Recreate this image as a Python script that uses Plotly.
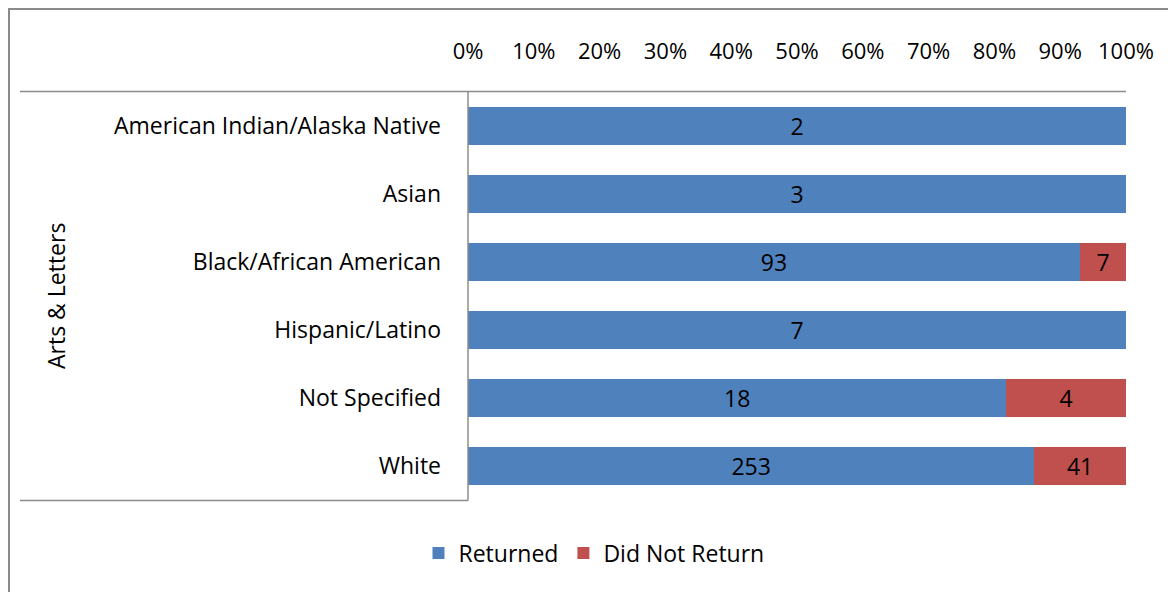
import plotly.graph_objects as go

categories = ["American Indian/Alaska Native", "Asian", "Black/African American",
              "Hispanic/Latino", "Not Specified", "White"]
returned = [2, 3, 93, 7, 18, 253]
did_not_return = [0, 0, 7, 0, 4, 41]
tick_vals = [0, 10, 20, 30, 40, 50, 60, 70, 80, 90, 100]
tick_text = ["0%", "10%", "20%", "30%", "40%", "50%", "60%", "70%", "80%", "90%", "100%"]
group_label = "Arts & Letters"

FONT = "Open Sans"
FS = 23
OFF = 8  # page body margin
W, H = 1176 - OFF, 592 - OFF
# reference (window) pixel coordinates of plot area
L, R, T, B = 468, 1126, 92, 500
pw, ph = R - L, B - T

def px(x):
    return (x - L) / pw

def py(y):
    return (B - y) / ph

fig = go.Figure()
fig.add_trace(go.Bar(
    y=categories, x=returned, orientation="h", name="Returned",
    marker=dict(color="#4F81BD", line=dict(width=0)),
    text=[str(v) if v else "" for v in returned], textposition="inside",
    insidetextanchor="middle", textfont=dict(color="black", size=FS, family=FONT),
    hoverinfo="x+y",
))
fig.add_trace(go.Bar(
    y=categories, x=did_not_return, orientation="h", name="Did Not Return",
    marker=dict(color="#C0504D", line=dict(width=0)),
    text=[str(v) if v else "" for v in did_not_return], textposition="inside",
    insidetextanchor="middle", textfont=dict(color="black", size=FS, family=FONT),
    hoverinfo="x+y",
))

line_col = "#8c8c8c"
shapes = [
    dict(type="rect", xref="paper", yref="paper", x0=px(OFF + 1), x1=px(1220),
         y0=py(OFF + 1), y1=py(660),
         line=dict(color="#8a8a8a", width=2), fillcolor="rgba(0,0,0,0)", layer="below"),
    dict(type="line", xref="paper", yref="paper", x0=px(20), x1=px(1126), y0=py(91.5), y1=py(91.5),
         line=dict(color=line_col, width=1.5)),
    dict(type="line", xref="paper", yref="paper", x0=px(20), x1=px(468), y0=py(500.5), y1=py(500.5),
         line=dict(color=line_col, width=1.5)),
    dict(type="line", xref="paper", yref="paper", x0=px(468), x1=px(468), y0=py(91.5), y1=py(500.5),
         line=dict(color=line_col, width=1.5)),
]

fig.update_layout(
    width=W, height=H,
    margin=dict(l=L - OFF, r=W - (R - OFF), t=T - OFF, b=H - (B - OFF), pad=0),
    barmode="stack", barnorm="percent", bargap=0.44,
    plot_bgcolor="white", paper_bgcolor="white",
    font=dict(family=FONT, size=FS, color="black"),
    xaxis=dict(side="top", range=[0, 100], tickvals=tick_vals, ticktext=tick_text,
               showgrid=False, zeroline=False, showline=False, ticks="",
               ticklabelstandoff=28, tickfont=dict(size=FS - 1, family=FONT), fixedrange=True),
    yaxis=dict(autorange="reversed", showgrid=False, zeroline=False, showline=False,
               ticks="", ticklabelstandoff=26, tickfont=dict(size=FS, family=FONT)),
    legend=dict(orientation="h", x=px(594), xanchor="center", y=py(553), yanchor="middle",
                font=dict(size=FS, family=FONT), traceorder="normal"),
    shapes=shapes,
    annotations=[dict(text=group_label, xref="paper", yref="paper", x=px(56), y=py(296),
                      textangle=-90, showarrow=False, font=dict(size=FS, family=FONT),
                      xanchor="center", yanchor="middle")],
    showlegend=True,
)

fig.write_html("out.html")
